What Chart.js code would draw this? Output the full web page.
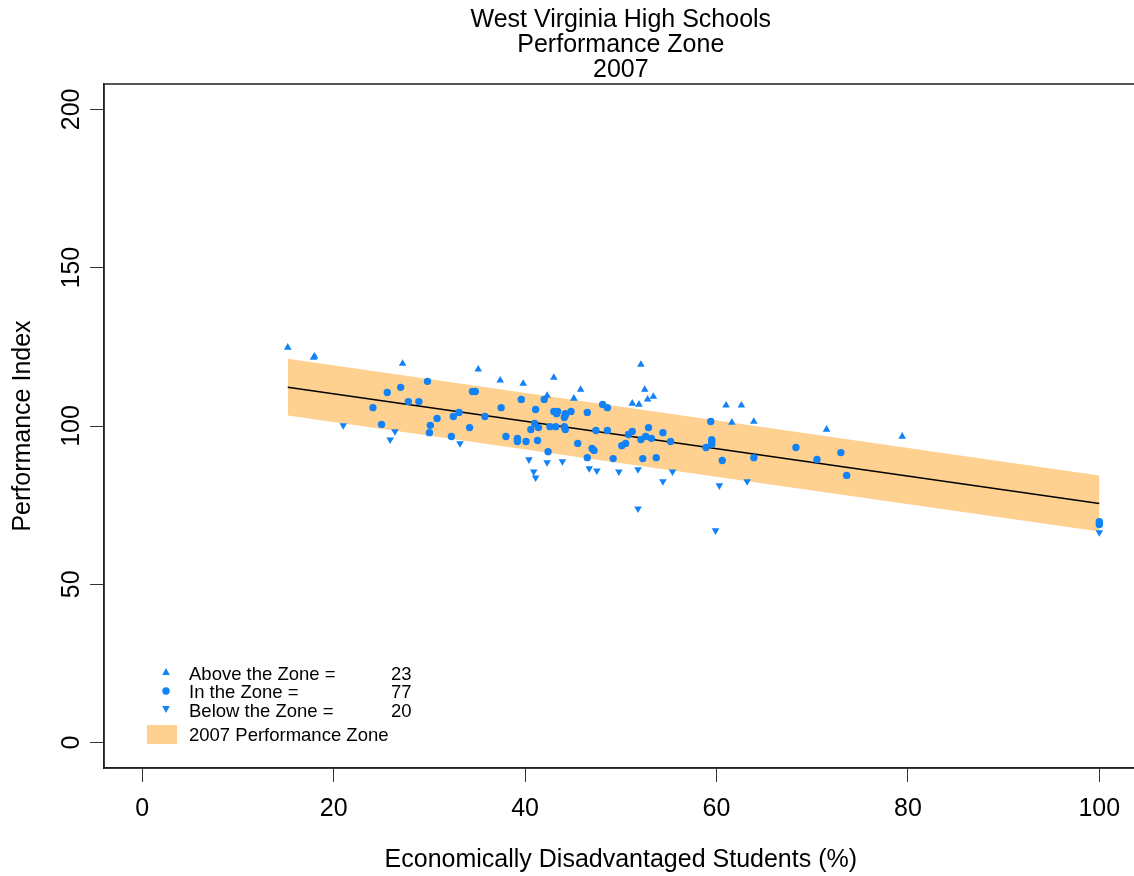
<!DOCTYPE html>
<html lang="en">
<head>
    <meta charset="UTF-8">
    <title>West Virginia High Schools - Performance Zone 2007</title>
    <script src="https://cdn.jsdelivr.net/npm/chart.js@4.4.0/dist/chart.umd.min.js"></script>
    <style>
        body {
            margin: 0;
            background: #fff;
            overflow: hidden;
        }
        .chart-container {
            width: 1142px;
            height: 876px;
        }
    </style>
</head>
<body>
    <div class="chart-container">
        <canvas id="zoneChart" width="1142" height="876"></canvas>
    </div>

    <script>
        // Title and axis text
        const titleLines = ['West Virginia High Schools', 'Performance Zone', '2007'];
        const xAxisTitle = 'Economically Disadvantaged Students (%)';
        const yAxisTitle = 'Performance Index';
        const xTickVals = [0, 20, 40, 60, 80, 100];
        const yTickVals = [0, 50, 100, 150, 200];

        // Schools, [economically disadvantaged %, performance index]
        const aboveZone = [
            [15.2, 124.8], [17.9, 121.6], [18.0, 122.0], [27.2, 119.7], [35.1, 117.9],
            [37.4, 114.4], [39.8, 113.4], [43.0, 115.3], [42.3, 109.6], [45.8, 111.5],
            [45.1, 108.7], [52.1, 119.4], [52.5, 111.5], [51.2, 107.1], [51.9, 106.8],
            [52.8, 108.4], [53.4, 109.3], [61.0, 106.5], [62.6, 106.5], [61.6, 101.1],
            [63.9, 101.4], [71.5, 98.9], [79.4, 96.7]
        ];
        const inZone = [
            [24.1, 105.8], [25.6, 110.6], [27.0, 112.2], [27.8, 107.7], [28.9, 107.7],
            [29.8, 114.1], [25.0, 100.5], [30.1, 100.2], [30.0, 97.9], [30.8, 102.4],
            [32.5, 103.0], [33.1, 104.3], [32.3, 96.7], [34.2, 99.5], [34.5, 110.9],
            [34.8, 110.9], [35.8, 103.0], [37.5, 105.8], [39.6, 108.4], [38.0, 96.7],
            [39.2, 96.1], [39.2, 95.1], [40.1, 95.1], [41.3, 95.4], [41.1, 105.2],
            [42.0, 108.4], [41.0, 100.8], [40.6, 98.9], [41.4, 99.5], [43.0, 104.6],
            [43.4, 104.6], [43.3, 103.9], [44.2, 103.3], [44.1, 102.7], [44.8, 104.6],
            [42.6, 99.8], [43.2, 99.8], [44.1, 99.8], [44.2, 98.9], [46.5, 104.3],
            [45.5, 94.5], [42.4, 91.9], [47.0, 92.9], [47.2, 92.3], [46.5, 90.0],
            [47.4, 98.6], [48.1, 106.8], [48.6, 105.8], [48.6, 98.6], [49.2, 89.7],
            [50.1, 93.8], [50.5, 94.5], [50.8, 97.3], [51.2, 98.3], [52.1, 95.7],
            [52.6, 96.7], [52.9, 99.5], [53.2, 96.1], [54.4, 97.9], [55.2, 95.1],
            [52.3, 89.7], [53.7, 90.0], [59.4, 101.4], [59.5, 95.7], [59.5, 94.2],
            [58.9, 93.2], [60.6, 89.1], [63.9, 90.0], [68.3, 93.2], [70.5, 89.4],
            [73.0, 91.6], [73.6, 84.4], [100.0, 68.9], [100.0, 69.8], [44.2, 103.9],
            [59.5, 95.1], [39.2, 95.7]
        ];
        const belowZone = [
            [21.0, 100.2], [26.4, 98.3], [25.9, 95.7], [33.2, 94.5], [40.4, 89.4],
            [40.9, 85.6], [41.1, 83.7], [42.3, 88.5], [43.9, 88.8], [46.7, 86.6],
            [47.5, 85.9], [49.8, 85.6], [51.8, 86.3], [51.8, 73.9], [54.4, 82.5],
            [55.4, 85.6], [60.3, 81.2], [63.2, 82.5], [59.9, 67.0], [100.0, 66.4]
        ];

        // Performance zone: fitted line and band limits at its two ends
        const zoneX = [15.2, 100];
        const zoneFit = [112.2, 75.5];
        const zoneUpper = [121.2, 84.4];
        const zoneLower = [103.3, 66.7];

        const legendLabels = ['Above the Zone =', 'In the Zone =', 'Below the Zone =', '2007 Performance Zone'];

        const blue = '#1282F6';
        const bandColor = '#FED191';
        const fontFamily = '"Liberation Sans", Arial, Helvetica, sans-serif';

        const toPts = arr => arr.map(p => ({ x: p[0], y: p[1] }));
        const line = ys => zoneX.map((x, i) => ({ x: x, y: ys[i] }));

        Chart.defaults.font.family = fontFamily;
        Chart.defaults.color = '#000';

        // Box around the plot and the legend in the lower left corner
        const boxAndLegend = {
            id: 'boxAndLegend',
            afterDraw(chart) {
                const ctx = chart.ctx;
                const a = chart.chartArea;
                ctx.save();
                ctx.strokeStyle = '#222';
                ctx.lineWidth = 1.5;
                ctx.strokeRect(a.left, a.top, a.right - a.left, a.bottom - a.top);

                const mx = a.left + 62;
                const tx = a.left + 85;
                const nx = a.left + 287;
                const rows = [a.bottom - 93, a.bottom - 75, a.bottom - 56];
                const counts = [aboveZone.length, inZone.length, belowZone.length];

                ctx.fillStyle = blue;
                // triangle up
                ctx.beginPath();
                ctx.moveTo(mx, rows[0] - 7);
                ctx.lineTo(mx + 3.8, rows[0]);
                ctx.lineTo(mx - 3.8, rows[0]);
                ctx.closePath();
                ctx.fill();
                // circle
                ctx.beginPath();
                ctx.arc(mx, rows[1] - 2, 3.7, 0, Math.PI * 2);
                ctx.fill();
                // triangle down
                ctx.beginPath();
                ctx.moveTo(mx, rows[2] + 1);
                ctx.lineTo(mx + 3.8, rows[2] - 6);
                ctx.lineTo(mx - 3.8, rows[2] - 6);
                ctx.closePath();
                ctx.fill();
                // band swatch
                ctx.fillStyle = bandColor;
                ctx.fillRect(a.left + 43, a.bottom - 43, 30, 19);

                ctx.fillStyle = '#000';
                ctx.font = '18.5px ' + fontFamily;
                ctx.textBaseline = 'middle';
                ctx.textAlign = 'left';
                for (let i = 0; i < 3; i++) {
                    ctx.fillText(legendLabels[i], tx, rows[i]);
                    ctx.fillText(String(counts[i]), nx, rows[i]);
                }
                ctx.fillText(legendLabels[3], tx, a.bottom - 32);
                ctx.restore();
            }
        };

        const axisGrid = {
            drawOnChartArea: false,
            drawTicks: true,
            tickLength: 14,
            color: '#333',
            lineWidth: 1
        };

        const config = {
            type: 'scatter',
            data: {
                datasets: [
                    {
                        label: 'Above the Zone',
                        data: toPts(aboveZone),
                        pointStyle: 'triangle',
                        pointRadius: 4.4,
                        backgroundColor: blue,
                        borderWidth: 0,
                        order: 0
                    },
                    {
                        label: 'In the Zone',
                        data: toPts(inZone),
                        pointStyle: 'circle',
                        pointRadius: 3.7,
                        backgroundColor: blue,
                        borderWidth: 0,
                        order: 0
                    },
                    {
                        label: 'Below the Zone',
                        data: toPts(belowZone),
                        pointStyle: 'triangle',
                        rotation: 180,
                        pointRadius: 4.4,
                        backgroundColor: blue,
                        borderWidth: 0,
                        order: 0
                    },
                    {
                        label: 'Fit',
                        data: line(zoneFit),
                        showLine: true,
                        borderColor: '#000',
                        borderWidth: 1.5,
                        pointRadius: 0,
                        fill: false,
                        order: 1
                    },
                    {
                        label: '2007 Performance Zone',
                        data: line(zoneUpper),
                        showLine: true,
                        borderWidth: 0,
                        borderColor: bandColor,
                        backgroundColor: bandColor,
                        pointRadius: 0,
                        fill: '+1',
                        order: 2
                    },
                    {
                        label: 'Zone lower',
                        data: line(zoneLower),
                        showLine: true,
                        borderWidth: 0,
                        borderColor: bandColor,
                        pointRadius: 0,
                        fill: false,
                        order: 2
                    }
                ]
            },
            options: {
                responsive: false,
                animation: false,
                layout: {
                    padding: { top: 0, right: 4, bottom: 0, left: 0 }
                },
                plugins: {
                    legend: { display: false },
                    tooltip: { enabled: false },
                    title: {
                        display: true,
                        text: titleLines,
                        fullSize: false,
                        color: '#000',
                        font: { size: 25, weight: 'normal', lineHeight: 1 },
                        padding: { top: 8, bottom: 1 }
                    }
                },
                scales: {
                    x: {
                        type: 'linear',
                        min: -4,
                        max: 104,
                        afterBuildTicks: s => { s.ticks = xTickVals.map(v => ({ value: v })); },
                        afterFit: s => { s.height = 108; },
                        grid: axisGrid,
                        border: { display: true, color: '#222', width: 1.5 },
                        ticks: {
                            font: { size: 25 },
                            color: '#000',
                            padding: 12,
                            maxRotation: 0
                        },
                        title: {
                            display: true,
                            text: xAxisTitle,
                            color: '#000',
                            font: { size: 25, lineHeight: 1 },
                            padding: { top: 0, bottom: 3 }
                        }
                    },
                    y: {
                        type: 'linear',
                        min: -8,
                        max: 208,
                        afterBuildTicks: s => { s.ticks = yTickVals.map(v => ({ value: v })); },
                        afterFit: s => { s.width = 104; },
                        grid: axisGrid,
                        border: { display: true, color: '#222', width: 1.5 },
                        ticks: {
                            font: { size: 25 },
                            color: '#000',
                            minRotation: 90,
                            maxRotation: 90,
                            crossAlign: 'center',
                            padding: -3
                        },
                        title: {
                            display: true,
                            text: yAxisTitle,
                            color: '#000',
                            font: { size: 25, lineHeight: 1 },
                            padding: { top: 11, bottom: 0 }
                        }
                    }
                }
            },
            plugins: [boxAndLegend]
        };

        window.onload = function() {
            const ctx = document.getElementById('zoneChart').getContext('2d');
            new Chart(ctx, config);
        };
    </script>
</body>
</html>
